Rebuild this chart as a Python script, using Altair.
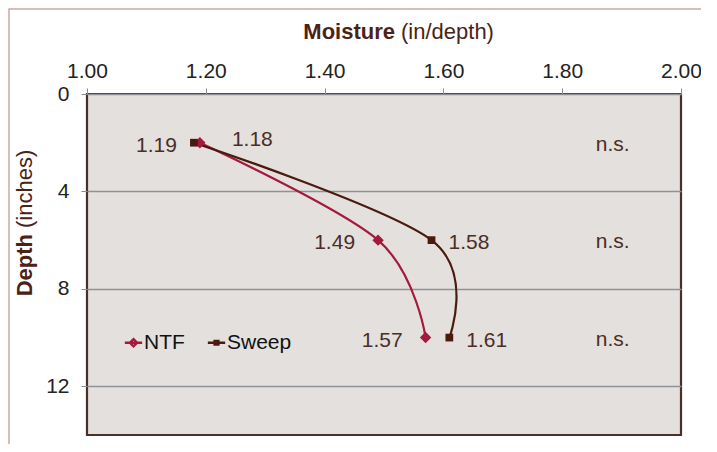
import altair as alt
import pandas as pd

series_names = ["NTF", "Sweep"]
depths = [2, 6, 10]
ntf_moisture = [1.19, 1.49, 1.57]
sweep_moisture = [1.18, 1.58, 1.61]
sig_labels = ["n.s.", "n.s.", "n.s."]
sig_x = 1.885
x_ticks = [1.0, 1.2, 1.4, 1.6, 1.8, 2.0]
y_ticks = [0, 4, 8, 12]

rows = []
for name, vals in zip(series_names, [ntf_moisture, sweep_moisture]):
    for d, v in zip(depths, vals):
        rows.append({"series": name, "moisture": v, "depth": d, "label": f"{v:.2f}"})
df = pd.DataFrame(rows)
sig_df = pd.DataFrame({"depth": depths, "moisture": [sig_x] * 3, "label": sig_labels})

FONT = "Liberation Sans, Arial, sans-serif"
C_NTF = "#A5193C"
C_SWEEP = "#4B1A0E"
TXT = "#4A2E26"

xscale = alt.Scale(domain=[1.0, 2.0], nice=False)
yscale = alt.Scale(domain=[0, 14], reverse=True, nice=False)

def cscale():
    return alt.Scale(domain=series_names, range=[C_NTF, C_SWEEP])

xenc = alt.X("moisture:Q", scale=xscale,
             axis=alt.Axis(orient="top", values=x_ticks, format=".2f", title=None, grid=False,
                           domain=False, tickColor="#8A8D92", tickSize=6, labelPadding=7,
                           labelFlush=False, labelFont=FONT, labelFontSize=21, labelColor="#222"))
yenc = alt.Y("depth:Q", scale=yscale,
             axis=alt.Axis(values=y_ticks, title=None, grid=True, gridColor="#8E9298", gridWidth=1.4,
                           domain=False, tickColor="#8A8D92", tickSize=6, labelPadding=12,
                           labelFlush=False, labelFont=FONT, labelFontSize=21, labelColor="#222"))

base = alt.Chart(df)

lines = base.mark_line(interpolate="cardinal", tension=0, strokeWidth=2.2).encode(
    x=xenc, y=yenc, color=alt.Color("series:N", scale=cscale(), legend=None),
    order="depth:Q", detail="series:N")

points = base.mark_point(filled=True, opacity=1).encode(
    x="moisture:Q", y="depth:Q",
    color=alt.Color("series:N", scale=cscale(), legend=None),
    shape=alt.Shape("series:N", scale=alt.Scale(domain=series_names, range=["diamond", "square"]), legend=None),
    size=alt.Size("series:N", scale=alt.Scale(domain=series_names, range=[130, 60]), legend=None),
)

leg_paths = ["M-1,0L1,0M0,-0.42L0.42,0L0,0.42L-0.42,0Z",
             "M-1,0L1,0M-0.22,-0.22L0.22,-0.22L0.22,0.22L-0.22,0.22Z"]
leg = dict(orient="none", legendX=36, legendY=238, direction="horizontal",
           title=None, labelFont=FONT, labelFontSize=21, labelColor="#111",
           symbolSize=300, symbolStrokeWidth=2.4, labelOffset=0, columnPadding=18)
legend_layer = base.transform_filter("false").mark_point(filled=False, strokeWidth=2.4, opacity=1).encode(
    x="moisture:Q", y="depth:Q",
    color=alt.Color("series:N", scale=cscale(), legend=alt.Legend(**leg)),
    shape=alt.Shape("series:N", scale=alt.Scale(domain=series_names, range=leg_paths), legend=alt.Legend(**leg)),
)

lab_common = dict(font=FONT, fontSize=21, color=TXT, baseline="middle", dy=3)
ntf_labels = base.transform_filter("datum.series == 'NTF'").mark_text(align="right", dx=-23, **lab_common).encode(
    x="moisture:Q", y="depth:Q", text="label:N")
sweep_labels = base.transform_filter("datum.series == 'Sweep' && datum.depth > 2").mark_text(
    align="left", dx=17, **lab_common).encode(x="moisture:Q", y="depth:Q", text="label:N")
sweep_top = base.transform_filter("datum.series == 'Sweep' && datum.depth == 2").mark_text(
    align="left", dx=38, dy=-3, font=FONT, fontSize=21, color=TXT, baseline="middle").encode(
    x="moisture:Q", y="depth:Q", text="label:N")

sig = alt.Chart(sig_df).mark_text(font=FONT, fontSize=21, color=TXT, baseline="middle", dy=2).encode(
    x="moisture:Q", y="depth:Q", text="label:N")

title_df = pd.DataFrame({"a": [0]})
t_bold = alt.Chart(title_df).mark_text(text="Moisture", font=FONT, fontSize=22, fontWeight="bold",
                                       color="#4B2216", align="right", baseline="middle").encode(
    x=alt.value(308), y=alt.value(-62))
t_norm = alt.Chart(title_df).mark_text(text="(in/depth)", font=FONT, fontSize=22,
                                       color="#4B2216", align="left", baseline="middle").encode(
    x=alt.value(314), y=alt.value(-62))
y_bold = alt.Chart(title_df).mark_text(text="Depth", font=FONT, fontSize=22, fontWeight="bold", angle=270,
                                       color="#4B2216", align="right", baseline="middle").encode(
    x=alt.value(-62), y=alt.value(140))
y_norm = alt.Chart(title_df).mark_text(text="(inches)", font=FONT, fontSize=22, angle=270,
                                       color="#4B2216", align="left", baseline="middle").encode(
    x=alt.value(-62), y=alt.value(134))

frame = alt.Chart(title_df).mark_rect(fill=None, stroke="#C9A9A2", strokeWidth=1.5).encode(
    x=alt.value(-78), x2=alt.value(700), y=alt.value(-85), y2=alt.value(500))

chart = alt.layer(frame, lines, points, legend_layer, ntf_labels, sweep_labels, sweep_top, sig,
                  t_bold, t_norm, y_bold, y_norm).resolve_scale(
    color="independent", shape="independent", size="independent"
).properties(
    width=594, height=341,
    autosize=alt.AutoSizeParams(type="none"),
    padding={"left": 79, "top": 86, "right": 20, "bottom": 9},
    background="white",
).configure_view(fill="#E4E0DD", stroke="#4A3028", strokeWidth=2.2)

chart.save("out.html", embed_options={"renderer": "svg", "actions": False})
